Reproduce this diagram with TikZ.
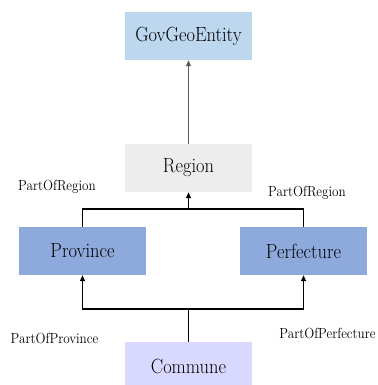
\documentclass[tikz,border=0pt]{standalone}
\usetikzlibrary{arrows.meta}
\definecolor{govblue}{RGB}{189,215,238}
\definecolor{reggray}{RGB}{237,237,237}
\definecolor{provblue}{RGB}{142,169,219}
\definecolor{comlav}{RGB}{217,217,255}
\newcommand{\boxtxt}[1]{\scalebox{0.9}[1]{\fontsize{20.5}{24}\selectfont #1}}
\newcommand{\lbltxt}[1]{\scalebox{0.9}[1]{\fontsize{14.6}{17}\selectfont #1}}
\begin{document}
\begin{tikzpicture}[x=1pt,y=1pt,
  entity/.style={minimum width=127pt,minimum height=48pt,inner sep=0pt,anchor=center},
  conn/.style={line width=1.3pt,-{Triangle[length=6pt,width=5pt]}},
  plain/.style={line width=1.3pt},
  lbl/.style={inner sep=0pt}]
\useasboundingbox (0,0) rectangle (377,385);
\node[entity,fill=govblue] (gov) at (188.5,349) {\boxtxt{GovGeoEntity}};
\node[entity,fill=reggray] (reg) at (188.5,217) {\boxtxt{Region}};
\node[entity,fill=provblue] (prov) at (82.5,134) {\boxtxt{Province}};
\node[entity,fill=provblue] (perf) at (303.5,134) {\boxtxt{Perfecture}};
\node[entity,fill=comlav] (com) at (188.5,19) {\boxtxt{Commune}};
\coordinate (jup) at (188.5,176);
\coordinate (jlo) at (188.5,76);
\draw[conn,draw=black!65,fill=black!65,line width=1.1pt] (reg) -- (gov);
\draw[plain] (prov.north) |- (jup) -| (perf.north);
\draw[conn] (jup) -- (reg.south);
\draw[plain] (com.north) -- (jlo);
\draw[conn] (jlo) -| (prov.south);
\draw[conn] (jlo) -| (perf.south);
\node[lbl] (l1) at (57,198) {\lbltxt{PartOfRegion}};
\node[lbl] (l2) at (307,192) {\lbltxt{PartOfRegion}};
\node[lbl] (l3) at (54.5,46) {\lbltxt{PartOfProvince}};
\node[lbl] (l4) at (327.5,51) {\lbltxt{PartOfPerfecture}};
\end{tikzpicture}
\end{document}
